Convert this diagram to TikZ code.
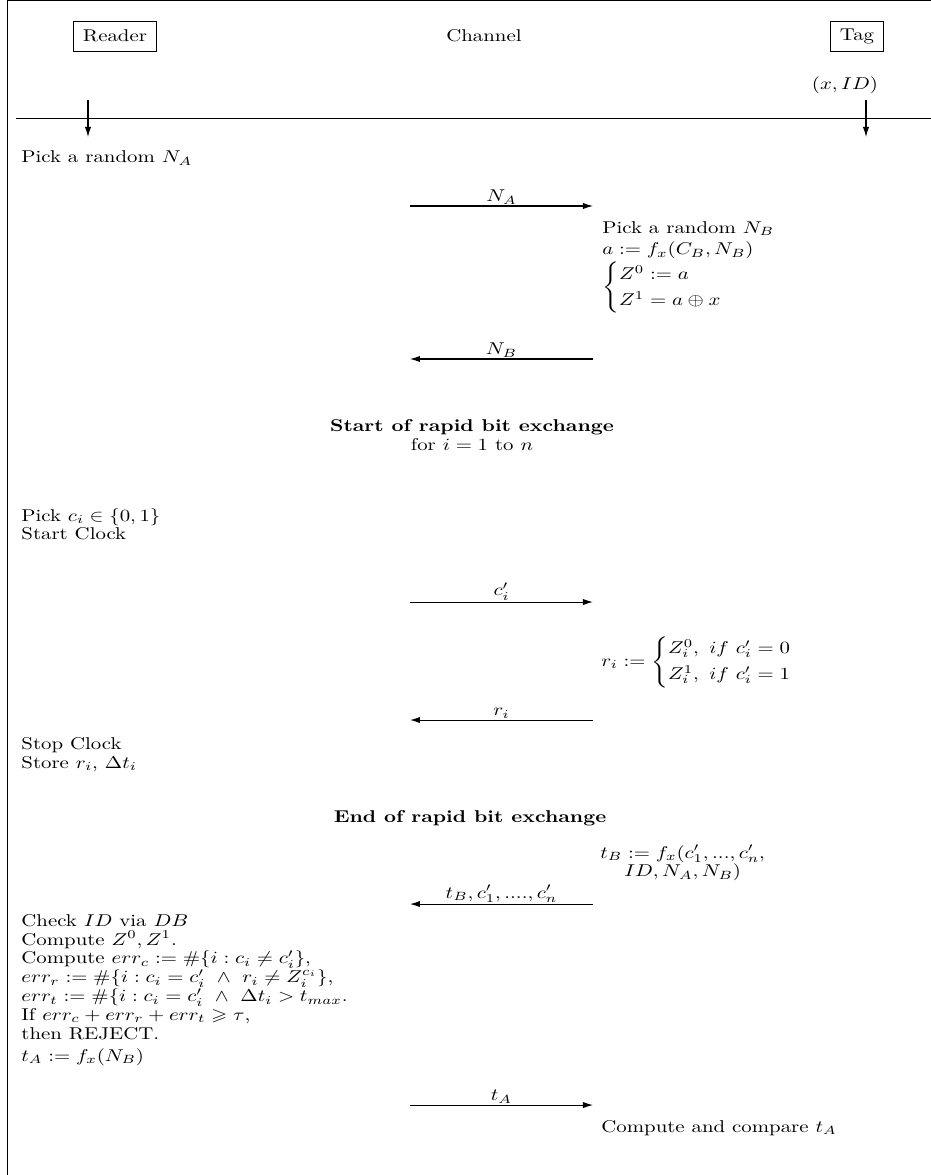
\documentclass[tikz,border=0pt]{standalone}
\usepackage{amsmath,amssymb}
\usepackage{tikz}
\usetikzlibrary{arrows.meta,positioning}

\newcommand{\protofont}{\fontsize{10}{11}\selectfont\lineskiplimit-6pt\relax}

\begin{document}
\begin{tikzpicture}[
    x=0.48pt, y=-0.58537pt, yscale=0.82,
    every node/.style={font=\protofont, transform shape},
    party/.style={draw, thin, inner xsep=4.5pt, inner ysep=0pt, minimum height=17.6pt},
    txt/.style={inner sep=0pt, align=left},
    phase/.style={inner sep=0pt, align=center},
    msg/.style={-{Latex[length=4.8pt, width=3pt]}, line width=0.5pt},
    lbl/.style={above, inner sep=0.8pt}
]
\useasboundingbox (0,0) rectangle (931,1175);
% frame
\draw[thin] (7,1175) |- (931,0.8);

% parties
\node[party] (reader) at (115,36) {Reader};
\node (channel) at (484,36) {Channel};
\node[party] (tag) at (857,36) {Tag};
\node[inner sep=0pt] (secret) at (845,85) {$(x, ID)$};

\coordinate (axisL) at (16,118);
\coordinate (axisR) at (931,118);
\draw (axisL) -- (axisR);
\coordinate (rdtop) at (88,100);
\coordinate (rdbot) at (88,137);
\coordinate (tgtop) at (866,100);
\coordinate (tgbot) at (866,137);
\draw[msg] (rdtop) -- (rdbot);
\draw[msg] (tgtop) -- (tgbot);

% initialisation
\node[txt, anchor=west] (pickna) at (21,158) {Pick a random $N_A$};
\coordinate (naL) at (410,206);
\coordinate (naR) at (593,206);
\draw[msg] (naL) -- node[lbl] {$N_A$} (naR);
\node[txt, anchor=north west] (picknb) at (602,221)
    {Pick a random $N_B$\\[1.5pt] $a := f_x(C_B, N_B)$\\[1pt]
     $\begin{cases} Z^0 := a\\[2pt] Z^1 = a \oplus x \end{cases}$};
\coordinate (nbL) at (410,359);
\coordinate (nbR) at (593,359);
\draw[msg] (nbR) -- node[lbl] {$N_B$} (nbL);

% rapid bit exchange
\node[phase] (startrbe) at (472,435) {\textbf{Start of rapid bit exchange}\\ for $i = 1$ to $n$};
\node[txt, anchor=north west] (pickci) at (21,508) {Pick $c_i \in \{0,1\}$\\ Start Clock};
\coordinate (ciL) at (410,602);
\coordinate (ciR) at (593,602);
\draw[msg] (ciL) -- node[lbl] {$c'_i$} (ciR);
\node[txt, anchor=west] (resp) at (601,662)
    {$r_i := \begin{cases} Z^0_i,\ if\ c'_i = 0\\[2pt] Z^1_i,\ if\ c'_i = 1 \end{cases}$};
\coordinate (riL) at (410,720);
\coordinate (riR) at (593,720);
\draw[msg] (riR) -- node[lbl] {$r_i$} (riL);
\node[txt, anchor=north west] (stopclk) at (21,737) {Stop Clock\\ Store $r_i$, $\Delta t_i$};
\node[phase] (endrbe) at (470,818) {\textbf{End of rapid bit exchange}};

% verification
\node[phase, anchor=north west] (tagtb) at (600,845) {$t_B := f_x(c'_1, ..., c'_n,$\\ $ID, N_A, N_B)$};
\coordinate (tbL) at (410,904);
\coordinate (tbR) at (593,904);
\draw[msg] (tbR) -- node[lbl] {$t_B, c'_1, ...., c'_n$} (tbL);
\node[txt, anchor=north west] (check) at (21,914)
    {Check $ID$ via $DB$\\
     Compute $Z^0, Z^1$.\\
     Compute $err_c := \#\{i : c_i \neq c'_i\}$,\\
     $err_r := \#\{i : c_i = c'_i \ \wedge\ r_i \neq Z_i^{c_i}\}$,\\
     $err_t := \#\{i : c_i = c'_i \ \wedge\ \Delta t_i > t_{max}$.\\
     If $err_c + err_r + err_t \geqslant \tau$,\\
     then REJECT.\\[2pt]
     $t_A := f_x(N_B)$};
\coordinate (taL) at (410,1105);
\coordinate (taR) at (593,1105);
\draw[msg] (taL) -- node[lbl] {$t_A$} (taR);
\node[txt, anchor=west] (cmpta) at (601,1128) {Compute and compare $t_A$};
\end{tikzpicture}
\end{document}
